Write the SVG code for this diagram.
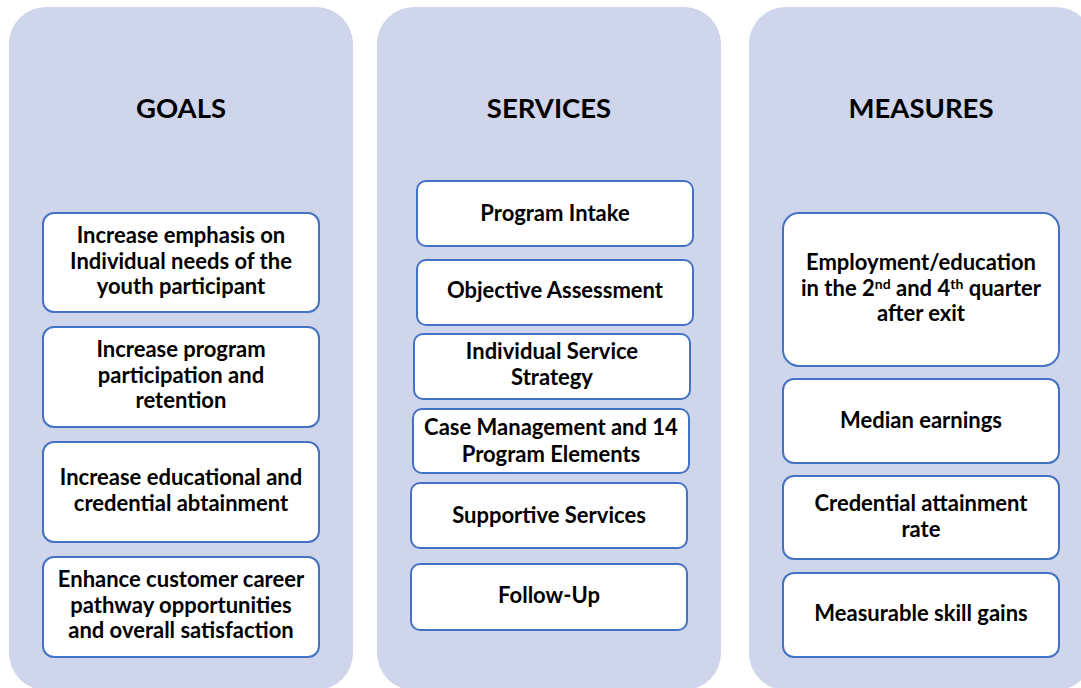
<svg xmlns="http://www.w3.org/2000/svg" width="1081" height="688" viewBox="0 0 1081 688">
<style>
.panel{fill:#CFD5EA;}
.box{fill:#FFFFFF;stroke:#4472C4;stroke-width:2;}
.title{font-family:Lato,"Liberation Sans",sans-serif;font-weight:bold;font-size:27.5px;fill:#000;text-anchor:middle;}
.t{font-family:Lato,"Liberation Sans",sans-serif;font-weight:bold;font-size:22px;fill:#000;text-anchor:middle;}
.sup{font-size:14px;}
</style>
<rect width="1081" height="688" fill="#FFFFFF"/>
<g id="panel-goals">
<rect class="panel" x="9" y="7" width="344" height="683" rx="37"/>
<text class="title" x="181" y="118">GOALS</text>
</g>
<g id="panel-services">
<rect class="panel" x="377" y="7" width="344" height="683" rx="37"/>
<text class="title" x="549" y="118">SERVICES</text>
</g>
<g id="panel-measures">
<rect class="panel" x="749" y="7" width="344" height="683" rx="37"/>
<text class="title" x="921" y="118">MEASURES</text>
</g>
<g id="goal-1">
<rect class="box" x="43" y="213" width="276" height="99" rx="11"/>
<text class="t" x="181" y="243">Increase emphasis on</text>
<text class="t" x="181" y="268.5">Individual needs of the</text>
<text class="t" x="181" y="294">youth participant</text>
</g>
<g id="goal-2">
<rect class="box" x="43" y="327" width="276" height="100" rx="11"/>
<text class="t" x="181" y="357">Increase program</text>
<text class="t" x="181" y="383">participation and</text>
<text class="t" x="181" y="408">retention</text>
</g>
<g id="goal-3">
<rect class="box" x="43" y="442" width="276" height="100" rx="11"/>
<text class="t" x="181" y="485">Increase educational and</text>
<text class="t" x="181" y="511">credential abtainment</text>
</g>
<g id="goal-4">
<rect class="box" x="43" y="557" width="276" height="100" rx="11"/>
<text class="t" x="181" y="587">Enhance customer career</text>
<text class="t" x="181" y="613">pathway opportunities</text>
<text class="t" x="181" y="638">and overall satisfaction</text>
</g>
<g id="svc-1">
<rect class="box" x="417" y="181" width="276" height="65" rx="9"/>
<text class="t" x="555" y="221">Program Intake</text>
</g>
<g id="svc-2">
<rect class="box" x="417" y="260" width="276" height="65" rx="9"/>
<text class="t" x="555" y="298">Objective Assessment</text>
</g>
<g id="svc-3">
<rect class="box" x="414" y="334" width="276" height="65" rx="9"/>
<text class="t" x="552" y="359">Individual Service</text>
<text class="t" x="552" y="385">Strategy</text>
</g>
<g id="svc-4">
<rect class="box" x="413" y="409" width="276" height="64" rx="9"/>
<text class="t" x="551" y="435">Case Management and 14</text>
<text class="t" x="551" y="462">Program Elements</text>
</g>
<g id="svc-5">
<rect class="box" x="411" y="483" width="276" height="65" rx="9"/>
<text class="t" x="549" y="523">Supportive Services</text>
</g>
<g id="svc-6">
<rect class="box" x="411" y="564" width="276" height="66" rx="9"/>
<text class="t" x="549" y="603">Follow-Up</text>
</g>
<g id="measure-1">
<rect class="box" x="783" y="213" width="276" height="153" rx="16"/>
<text class="t" x="921" y="270">Employment/education</text>
<text class="t" x="921" y="296">in the 2<tspan class="sup" dy="-7">nd</tspan><tspan dy="7"> and 4</tspan><tspan class="sup" dy="-7">th</tspan><tspan dy="7"> quarter</tspan></text>
<text class="t" x="921" y="321">after exit</text>
</g>
<g id="measure-2">
<rect class="box" x="783" y="379" width="276" height="84" rx="11"/>
<text class="t" x="921" y="428">Median earnings</text>
</g>
<g id="measure-3">
<rect class="box" x="783" y="476" width="276" height="83" rx="11"/>
<text class="t" x="921" y="511">Credential attainment</text>
<text class="t" x="921" y="537">rate</text>
</g>
<g id="measure-4">
<rect class="box" x="783" y="573" width="276" height="84" rx="11"/>
<text class="t" x="921" y="621">Measurable skill gains</text>
</g>
<g id="connectors"/>
</svg>
